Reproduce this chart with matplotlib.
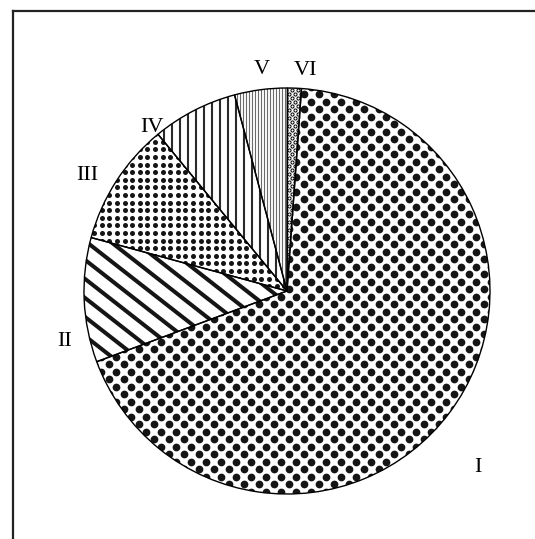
import numpy as np
import matplotlib
matplotlib.use("Agg")
import matplotlib.pyplot as plt
from matplotlib.collections import LineCollection
from matplotlib.lines import Line2D

# data (shares in percent), drawn clockwise
labels = ["I", "II", "III", "IV", "V", "VI"]
shares = [68.2, 9.9, 9.8, 6.8, 4.2, 1.1]
start = 85.9

# label layout: (angle deg, radius) around the pie
label_pos = [(-42.8, 1.283), (192.7, 1.121), (149.9, 1.139),
             (129.6, 1.045), (96.4, 1.10), (85.3, 1.092)]

W, H = 535, 539
R = 203.0          # pie radius in px
cx, cy = 287, 291  # pie centre in px (from top-left)
px = 1.0 / R       # one pixel in data units

fig = plt.figure(figsize=(W / 100, H / 100), dpi=100)
ax = fig.add_axes([0, 0, 1, 1])

wedges, _ = ax.pie(shares, startangle=start, counterclock=False,
                   wedgeprops=dict(facecolor="none", edgecolor="black",
                                   linewidth=1.0, zorder=5))
ax.set_xlim(-cx / R, (W - cx) / R)
ax.set_ylim(-(H - cy) / R, cy / R)
ax.set_aspect("auto")
ax.axis("off")


def dots(wedge, dx, dy, size, offset=True, ring=False, color="black"):
    xs, ys = [], []
    n = 0
    for y in np.arange(-1.1, 1.1, dy):
        shift = dx / 2 if (offset and n % 2) else 0
        for x in np.arange(-1.1, 1.1, dx):
            xs.append(x + shift)
            ys.append(y)
        n += 1
    if ring:
        sc = ax.scatter(xs, ys, s=size, facecolors="white", edgecolors=color,
                        linewidths=0.7, zorder=2)
    else:
        sc = ax.scatter(xs, ys, s=size, c=color, linewidths=0, zorder=2)
    sc.set_clip_path(wedge)


def stripes(wedge, angle, gap, lw, color="black"):
    a = np.radians(angle)
    d = np.array([np.cos(a), np.sin(a)])
    nrm = np.array([-d[1], d[0]])
    segs = []
    for k in np.arange(-1.6, 1.6, gap):
        p = nrm * k
        segs.append([p - 2 * d, p + 2 * d])
    lc = LineCollection(segs, colors=color, linewidths=lw, zorder=2)
    ax.add_collection(lc)
    lc.set_clip_path(wedge)


dots(wedges[0], 15 * px, 7.5 * px, 31, color="#151515")
stripes(wedges[1], -38, 15 * px, 2.9, color="#151515")
dots(wedges[2], 7.6 * px, 7.6 * px, 13, offset=False, color="#151515")
stripes(wedges[3], 90, 8 * px, 1.5, color="#2a2a2a")
stripes(wedges[4], 90, 3 * px, 0.8, color="#6a6a6a")
dots(wedges[5], 6 * px, 4 * px, 5, ring=True)

for lab, (ang, r) in zip(labels, label_pos):
    a = np.radians(ang)
    ax.text(r * np.cos(a), r * np.sin(a), lab, ha="center", va="center",
            fontsize=16, family="Liberation Serif")

# frame: top and left edges only
fig.add_artist(Line2D([12.5 / W, 1], [1 - 10.5 / H, 1 - 10.5 / H],
                      color="#222222", linewidth=1.6))
fig.add_artist(Line2D([12.5 / W, 12.5 / W], [0, 1 - 10.5 / H],
                      color="#222222", linewidth=1.6))

fig.savefig("out.png", dpi=100)
